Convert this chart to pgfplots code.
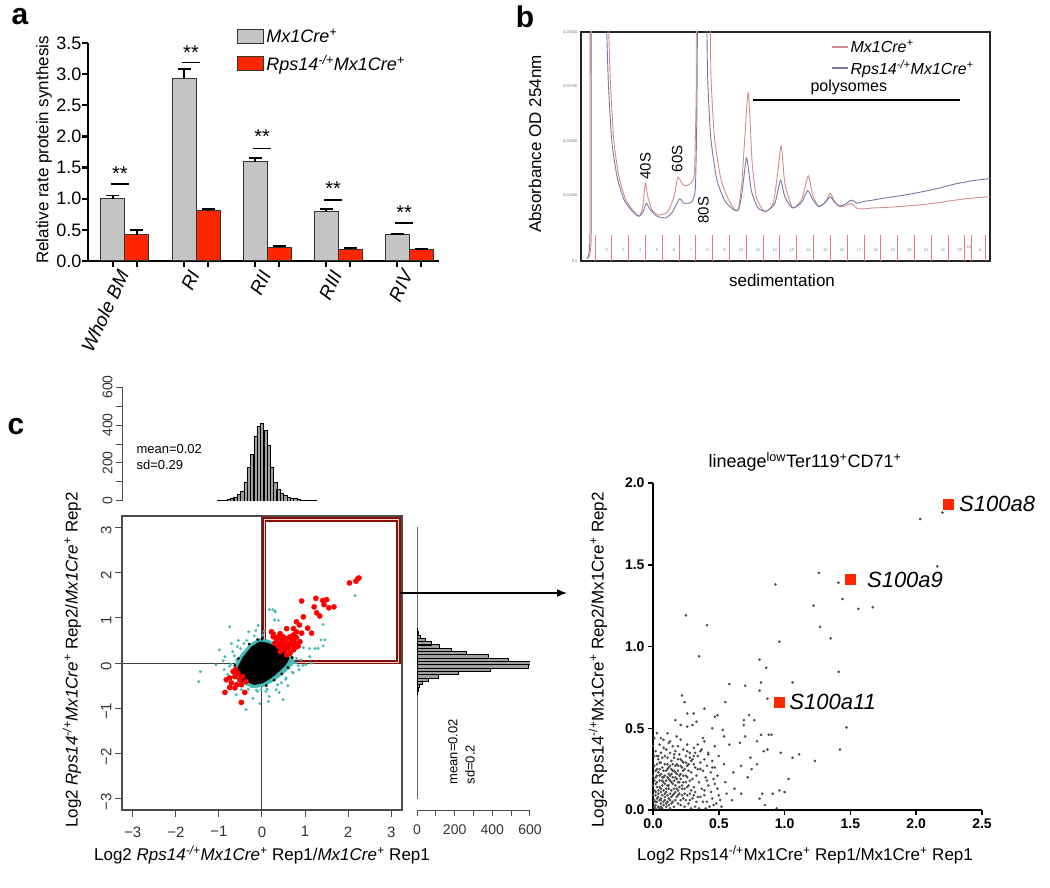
\documentclass[border=0pt]{standalone}
\usepackage{pgfplots}
\pgfplotsset{compat=1.18}
\usepackage{fontspec}
\setmainfont{Liberation Sans}
\usetikzlibrary{arrows.meta}

\definecolor{barred}{RGB}{255,38,0}
\definecolor{bargray}{RGB}{196,196,196}
\definecolor{odred}{RGB}{212,140,140}
\definecolor{odblue}{RGB}{118,118,168}
\definecolor{fracred}{RGB}{238,120,120}
\definecolor{tealpt}{RGB}{70,185,185}
\definecolor{boxred}{RGB}{135,15,10}
\definecolor{ptgray}{RGB}{75,75,75}
\definecolor{histgray}{RGB}{160,160,160}

\newcommand{\fs}[1]{\fontsize{#1}{#1}\selectfont}
\newcommand{\sps}[1]{\textsuperscript{#1}}

\begin{document}
\begin{tikzpicture}[x=1pt,y=1pt]
\useasboundingbox (0,0) rectangle (1050,887);

% ================= panel a : bars
\node[font=\fs{30}\bfseries] at (20,870) {a};
\node[rotate=90, font=\fs{17}] at (44,737) {Relative rate protein synthesis};
\begin{axis}[
  at={(88pt,626pt)}, anchor=south west, scale only axis,
  width=351pt, height=218pt,
  xmin=-0.52, xmax=4.42, ymin=0, ymax=3.5,
  axis x line=bottom, axis y line=left,
  axis line style={-, line width=2.4pt},
  ybar=0pt, bar width=24pt,
  xtick={-0.169,0.169,0.831,1.169,1.831,2.169,2.831,3.169,3.831,4.169},
  xticklabels={,,,,,,,,,},
  ytick={0,0.5,1,1.5,2,2.5,3,3.5},
  yticklabels={0.0,0.5,1.0,1.5,2.0,2.5,3.0,3.5},
  tick align=outside, major tick length=6pt,
  tick style={line width=2.4pt, black},
  yticklabel style={font=\fs{18}, xshift=3pt},
  clip=false,
  legend style={at={(0.425,1.075)}, anchor=north west, draw=none, fill=none,
    font=\fs{18}\itshape, row sep=7pt, inner sep=0pt, cells={anchor=west}},
  legend image code/.code={\draw[#1, line width=1pt] (0pt,-7pt) rectangle (26pt,7pt);},
]
\addplot[fill=bargray, draw=black!80, line width=1pt,
  error bars/.cd, y dir=plus, y explicit,
  error bar style={line width=1.6pt, black},
  error mark options={rotate=90, mark size=6.5pt, line width=1.6pt, black}]
  coordinates {(0,1.00) +- (0,0.05) (1,2.93) +- (0,0.15) (2,1.59) +- (0,0.06)
               (3,0.79) +- (0,0.04) (4,0.42) +- (0,0.015)};
\addplot[fill=barred, draw=black!80, line width=1pt,
  error bars/.cd, y dir=plus, y explicit,
  error bar style={line width=1.6pt, black},
  error mark options={rotate=90, mark size=6.5pt, line width=1.6pt, black}]
  coordinates {(0,0.42) +- (0,0.08) (1,0.81) +- (0,0.02) (2,0.22) +- (0,0.02)
               (3,0.19) +- (0,0.02) (4,0.18) +- (0,0.015)};
\legend{Mx1Cre\sps{+}, Rps14\sps{-/+}Mx1Cre\sps{+}}
% significance
\draw[line width=1.5pt] (axis cs:-0.20,1.236) -- (axis cs:0.06,1.236);
\node[font=\fs{20}] at (axis cs:-0.07,1.40) {**};
\draw[line width=1.5pt] (axis cs:0.80,3.19) -- (axis cs:1.06,3.19);
\node[font=\fs{20}] at (axis cs:0.93,3.35) {**};
\draw[line width=1.5pt] (axis cs:1.80,1.81) -- (axis cs:2.06,1.81);
\node[font=\fs{20}] at (axis cs:1.93,1.99) {**};
\draw[line width=1.5pt] (axis cs:2.80,0.98) -- (axis cs:3.06,0.98);
\node[font=\fs{20}] at (axis cs:2.93,1.16) {**};
\draw[line width=1.5pt] (axis cs:3.80,0.61) -- (axis cs:4.06,0.61);
\node[font=\fs{20}] at (axis cs:3.93,0.77) {**};
% category names
\node[rotate=65, anchor=east, font=\fs{19}\itshape] at (axis cs:0.0,-0.12) {Whole BM};
\node[rotate=65, anchor=east, font=\fs{19}\itshape] at (axis cs:1.0,-0.12) {RI};
\node[rotate=65, anchor=east, font=\fs{19}\itshape] at (axis cs:2.0,-0.12) {RII};
\node[rotate=65, anchor=east, font=\fs{19}\itshape] at (axis cs:3.0,-0.12) {RIII};
\node[rotate=65, anchor=east, font=\fs{19}\itshape] at (axis cs:4.0,-0.12) {RIV};
\end{axis}

% ================= panel b : polysome profile
\node[font=\fs{30}\bfseries] at (525,870) {b};
\node[rotate=90, font=\fs{17}] at (535,743) {Absorbance OD 254nm};
\node[font=\fs{17}] at (782,607) {sedimentation};
\begin{axis}[
  at={(581pt,626pt)}, anchor=south west, scale only axis,
  width=409pt, height=229pt,
  xmin=0.17, xmax=24.5, ymin=-0.0027, ymax=0.05,
  axis line style={line width=1.4pt, black!85},
  xtick=\empty,
  ytick={-0.0027,0.0125,0.025,0.0375,0.05},
  yticklabels={0.0,0.01250,0.02500,0.03750,0.05000},
  scaled y ticks=false,
  major tick length=0pt,
  yticklabel style={font=\fs{4}, text=black!55},
  legend style={at={(0.611,0.975)}, anchor=north west, draw=none, fill=none,
    font=\fs{16}\itshape, row sep=2pt, inner sep=0pt, cells={anchor=west}},
  legend image code/.code={\draw[#1, line width=1.5pt] (0pt,0pt) -- (16pt,0pt);},
]
\addplot[odred, line width=0.9pt, smooth, tension=0.35] coordinates {
  (0.55,-0.002)(0.78,0.003)(0.84,0.06)(1.75,0.06)(1.82,0.05)(1.92,0.0383)(2.12,0.0251)
  (2.43,0.0166)(2.84,0.0113)(3.34,0.0086)(3.65,0.0076)(3.85,0.0100)(4.00,0.0152)
  (4.15,0.0120)(4.40,0.0090)(4.80,0.0079)(5.30,0.0085)(5.70,0.0120)(5.93,0.0166)
  (6.20,0.0150)(6.45,0.0146)(6.76,0.0155)(6.92,0.0180)(7.02,0.0350)(7.08,0.06)
  (7.80,0.06)(7.90,0.040)(8.10,0.026)(8.50,0.016)(9.00,0.0110)(9.50,0.0088)
  (9.75,0.0160)(10.11,0.0360)(10.35,0.0200)(10.60,0.0120)(11.10,0.0086)(11.60,0.0105)
  (11.85,0.0170)(12.08,0.0238)(12.30,0.0150)(12.76,0.0095)(13.30,0.0115)(13.69,0.0169)
  (13.95,0.0125)(14.31,0.0098)(14.70,0.0108)(15.00,0.0129)(15.25,0.0110)(15.55,0.0098)
  (15.90,0.0100)(16.24,0.0105)(16.60,0.0094)(17.00,0.0093)(17.50,0.0095)(18.25,0.0096)
  (19.30,0.0099)(20.30,0.0102)(21.40,0.0107)(22.40,0.0113)(23.50,0.0118)(24.60,0.0121)};
\addplot[odblue, line width=0.9pt, smooth, tension=0.35] coordinates {
  (0.50,-0.002)(0.70,0.003)(0.76,0.06)(1.62,0.06)(1.70,0.05)(1.80,0.038)(2.00,0.025)
  (2.32,0.0166)(2.74,0.0113)(3.25,0.0086)(3.60,0.0076)(3.85,0.0085)(4.05,0.0106)
  (4.30,0.0090)(4.70,0.0076)(5.20,0.0072)(5.60,0.0085)(6.03,0.0116)(6.30,0.0106)
  (6.76,0.0109)(6.97,0.0140)(7.06,0.0300)(7.14,0.06)(7.60,0.06)(7.70,0.040)(7.88,0.026)
  (8.25,0.016)(8.75,0.0110)(9.30,0.0090)(9.55,0.0092)(9.75,0.0130)(10.02,0.0210)
  (10.30,0.0135)(10.70,0.0095)(11.20,0.0088)(11.70,0.0105)(12.04,0.0159)(12.30,0.0120)
  (12.76,0.0095)(13.30,0.0108)(13.65,0.0135)(13.95,0.0115)(14.31,0.0098)(14.70,0.0108)
  (15.00,0.0121)(15.25,0.0108)(15.55,0.0100)(15.90,0.0104)(16.24,0.0113)(16.60,0.0106)
  (17.00,0.0110)(17.50,0.0113)(18.25,0.0118)(19.30,0.0124)(20.30,0.0131)(21.40,0.0140)
  (22.40,0.0150)(23.50,0.0158)(24.60,0.0163)};
\legend{Mx1Cre\sps{+}, Rps14\sps{-/+}Mx1Cre\sps{+}}
% fraction marks
\pgfplotsinvokeforeach{1,2,3,4,5,6,7,8,9,10,11,12,13,14,15,16,17,18,19,20,21,22}{
  \draw[fracred, line width=0.8pt] (axis cs:#1,-0.0027) -- (axis cs:#1,0.0033);
  \node[font=\fs{4}, text=black!50] at (axis cs:#1-0.3,-0.0001) {#1};
}
\draw[fracred, line width=0.8pt] (axis cs:23.0,-0.0027) -- (axis cs:23.0,0.0033);
\node[font=\fs{4}, text=black!50] at (axis cs:22.7,-0.0001) {23};
\draw[fracred, line width=0.8pt] (axis cs:23.4,-0.0027) -- (axis cs:23.4,0.0033);
\node[font=\fs{4}, text=black!50] at (axis cs:23.25,0.0004) {24};
\draw[fracred, line width=0.8pt] (axis cs:24.2,-0.0027) -- (axis cs:24.2,0.0033);
\node[font=\fs{4}, text=black!50] at (axis cs:23.9,-0.0001) {A};
% annotations
\draw[line width=1.3pt] (axis cs:10.4,0.03435) -- (axis cs:22.7,0.03435);
\node[font=\fs{16}] at (axis cs:16.1,0.0372) {polysomes};
\node[rotate=90, font=\fs{15}] at (axis cs:4.0,0.0191) {40S};
\node[rotate=90, font=\fs{15}] at (axis cs:5.9,0.0208) {60S};
\node[rotate=90, font=\fs{15}] at (axis cs:7.45,0.0090) {80S};
\end{axis}

% ================= panel c : scatter with marginal histograms
\node[font=\fs{30}\bfseries] at (16,460) {c};
\begin{axis}[
  at={(122pt,77pt)}, anchor=south west, scale only axis,
  width=280pt, height=294pt,
  xmin=-3.25, xmax=3.25, ymin=-3.25, ymax=3.25,
  axis line style={line width=1.2pt, black!70},
  xtick={-3,-2,-1,0,1,2,3}, ytick={-3,-2,-1,0,1,2,3},
  xticklabels={−3,−2,−1,0,1,2,3}, yticklabels={−3,−2,−1,0,1,2,3},
  tick align=outside, tick pos=left, major tick length=7pt,
  tick style={line width=1pt, black!70},
  ticklabel style={font=\fs{15}, text=black!80},
  xticklabel style={yshift=-6pt},
  yticklabel style={rotate=90, anchor=south, xshift=-3pt},
]
\addplot[black!75, line width=1pt] coordinates {(-3.25,0)(3.25,0)};
\addplot[black!75, line width=1pt] coordinates {(0,-3.25)(0,3.25)};
\draw[boxred, line width=1.8pt, double=red!20, double distance=1pt]
  (axis cs:0.05,0.02) rectangle (axis cs:3.17,3.17);
% teal halo
\addplot[fill=tealpt, draw=tealpt] coordinates {
  (-0.68,-0.15)(-0.58,0.06)(-0.48,0.20)(-0.28,0.42)(-0.06,0.54)(0.15,0.51)(0.35,0.42)
  (0.58,0.29)(0.72,0.12)(0.76,0.0)(0.64,-0.10)(0.48,-0.25)(0.27,-0.40)(0.04,-0.52)
  (-0.19,-0.55)(-0.40,-0.48)(-0.59,-0.34)} -- cycle;
\addplot[only marks, mark=*, mark size=1.3pt, mark options={draw=tealpt, fill=tealpt}] coordinates {
  (-0.75,0.80)(0.17,1.18)(0.31,1.13)(-0.09,0.83)(-0.14,0.72)(-0.31,0.69)(-0.71,0.43)
  (-0.99,0.29)(-1.43,-0.19)(-1.47,-0.41)(-1.07,-0.04)(-0.88,-0.15)(0.38,0.94)(1.37,0.51)
  (1.30,0.32)(1.11,0.14)(1.02,-0.04)(0.86,-0.15)(0.72,-0.22)(0.56,-0.33)(0.45,-0.44)
  (0.33,-0.59)(0.49,-0.81)(0.17,-0.74)(-0.02,-0.59)(-0.21,-0.78)(-0.37,-1.03)(-0.48,-0.59)
  (-0.25,-0.52)(0.09,-0.63)(0.78,0.0)(0.63,-0.12)(0.90,0.07)(0.25,-0.37)(-0.13,-0.60)
  (-0.86,0.14)(-0.68,0.25)(-0.57,0.36)(-0.42,0.43)(-0.59,0.07)(-0.75,-0.07)
  (2.16,1.49)(0.25,1.18)(0.30,1.15)(0.29,0.95)(1.42,0.85)(1.46,0.51)(1.42,0.38)
  (1.23,0.32)(1.10,0.32)(0.96,0.34)(-0.80,-0.25)(-0.90,0.05)(-0.55,0.50)(0.95,-0.05)
  (0.60,-0.50)(0.15,-0.85)(-0.05,-0.90)(0.40,-0.65)(-0.60,-0.70)(1.15,0.0)(0.05,0.70)
  (-0.72,-0.02)(-0.64,0.16)(-0.50,0.32)(-0.36,0.50)(-0.18,0.60)(0.02,0.62)(0.62,0.34)
  (0.80,0.10)(0.84,-0.06)(0.70,-0.20)(0.55,-0.36)(0.36,-0.48)(0.12,-0.58)(-0.10,-0.63)
  (-0.32,-0.58)(-0.52,-0.45)(-0.66,-0.30)};
% dense core
\addplot[fill=black, draw=black] coordinates {
  (-0.59,-0.15)(-0.50,0.02)(-0.43,0.14)(-0.24,0.36)(-0.05,0.47)(0.14,0.44)(0.33,0.36)
  (0.53,0.25)(0.63,0.10)(0.55,-0.04)(0.40,-0.18)(0.21,-0.33)(0.02,-0.44)(-0.18,-0.48)
  (-0.37,-0.41)(-0.53,-0.30)} -- cycle;
\addplot[only marks, mark=*, mark size=1.2pt, black] coordinates {
  (0.70,0.12)(0.66,0.20)(-0.63,-0.05)(0.00,0.53)(0.10,-0.50)(0.46,-0.24)(-0.30,0.42)
  (-0.45,-0.40)(0.60,-0.10)(-0.10,0.52)(0.28,-0.38)(-0.55,0.10)};
% differentially expressed
\addplot[only marks, mark=*, mark size=2.6pt, mark options={draw=red, fill=red}] coordinates {
  (2.22,1.86)(2.25,1.88)(2.18,1.81)(2.03,1.77)(0.92,1.37)(1.25,1.43)(1.41,1.38)(1.50,1.40)
  (1.44,1.29)(1.55,1.22)(1.67,1.24)(1.21,1.24)(1.27,1.11)(1.34,1.04)(0.96,1.02)(0.80,0.91)
  (0.87,0.84)(0.73,0.76)(0.57,0.76)(1.06,0.77)(1.15,0.66)(0.92,0.66)(0.80,0.69)(0.73,0.62)
  (0.42,0.65)(0.22,0.69)(0.26,0.58)(0.34,0.51)(0.42,0.43)(0.49,0.47)(0.57,0.54)(0.65,0.58)
  (0.73,0.51)(0.80,0.43)(0.88,0.47)(0.69,0.40)(0.61,0.32)(0.53,0.29)(0.46,0.34)(0.38,0.37)
  (0.30,0.44)(0.73,0.29)(0.65,0.21)(0.57,0.18)(0.77,0.34)(0.84,0.37)(0.49,0.58)(0.61,0.43)
  (0.69,0.51)(0.53,0.37)(0.26,0.64)(0.38,0.58)(0.46,0.53)(0.80,0.56)(0.42,0.25)
  (-0.67,-0.19)(-0.63,-0.30)(-0.75,-0.33)(-0.83,-0.37)(-0.71,-0.44)(-0.59,-0.48)
  (-0.75,-0.54)(-0.86,-0.65)(-0.63,-0.55)(-0.52,-0.37)(-0.48,-0.48)(-0.40,-0.65)
  (-0.48,-0.87)(-0.56,-0.23)(-0.61,-0.15)(-0.45,-0.30)(-0.37,-0.41)};
\end{axis}

% top histogram
\begin{axis}[
  at={(122pt,386pt)}, anchor=south west, scale only axis,
  width=280pt, height=114pt,
  xmin=-3.25, xmax=3.25, ymin=0, ymax=600,
  axis x line=none, axis y line=left,
  axis line style={-, line width=1pt, black!70},
  ytick={0,100,200,300,400,500,600}, yticklabels={0,,200,,400,,600},
  tick align=outside, major tick length=6pt,
  tick style={line width=1pt, black!70},
  yticklabel style={rotate=90, anchor=south, font=\fs{14}, text=black!80},
]
\addplot[black!70, line width=0.8pt] coordinates {(-3,0)(3,0)};
\addplot[ybar, bar width=0.077, fill=histgray, draw=black, line width=0.5pt] coordinates {
  (-1.00,2)(-0.92,4)(-0.85,6)(-0.77,9)(-0.69,13)(-0.62,22)(-0.54,34)(-0.46,50)(-0.38,100)
  (-0.31,178)(-0.23,245)(-0.15,340)(-0.08,392)(0.00,408)(0.08,372)(0.15,295)(0.23,180)
  (0.31,100)(0.38,60)(0.46,40)(0.54,30)(0.62,21)(0.69,16)(0.77,12)(0.85,8)(0.92,6)
  (1.00,4)(1.08,3)(1.15,2)(1.23,2)(1.31,1)};
\end{axis}
\node[anchor=west, font=\fs{13}] at (133,438) {mean=0.02};
\node[anchor=west, font=\fs{13}] at (133,422) {sd=0.29};

% right histogram
\begin{axis}[
  at={(417pt,77pt)}, anchor=south west, scale only axis,
  width=113pt, height=294pt,
  xmin=0, xmax=600, ymin=-3.25, ymax=3.25,
  axis y line=none, axis x line=bottom,
  axis line style={-, line width=1pt, black!70},
  xtick={0,100,200,300,400,500,600}, xticklabels={0,,200,,400,,600},
  tick align=outside, major tick length=6pt,
  tick style={line width=1pt, black!70},
  xticklabel style={font=\fs{14}, text=black!80, yshift=-5pt},
]
\addplot[black!60, line width=0.8pt] coordinates {(0,-3)(0,3)};
\addplot[xbar, bar width=0.073, fill=histgray, draw=black, line width=0.5pt] coordinates {
  (3,0.73)(8,0.66)(16,0.58)(42,0.51)(78,0.44)(120,0.37)(180,0.29)(260,0.22)(379,0.15)
  (485,0.07)(639,0.00)(591,-0.07)(388,-0.15)(219,-0.22)(113,-0.29)(58,-0.37)(30,-0.44)
  (11,-0.51)(5,-0.58)(2,-0.66)};
\end{axis}
\node[rotate=90, anchor=west, font=\fs{13}] at (453,99) {mean=0.02};
\node[rotate=90, anchor=west, font=\fs{13}] at (470,99) {sd=0.2};

\node[rotate=90, font=\fs{17}] at (72,227)
  {Log2 \textit{Rps14\sps{-/+}Mx1Cre\sps{+}} Rep2/\textit{Mx1Cre\sps{+}} Rep2};
\node[font=\fs{17}] at (262,32)
  {Log2 \textit{Rps14\sps{-/+}Mx1Cre\sps{+}} Rep1/\textit{Mx1Cre\sps{+}} Rep1};

\draw[-{Latex[length=10pt,width=8pt]}, line width=1.5pt] (400,294) -- (567,294);

% right scatter (lineage low Ter119+ CD71+)
\node[font=\fs{18}] at (805,425) {lineage\sps{low}Ter119\sps{+}CD71\sps{+}};
\begin{axis}[
  at={(653pt,77pt)}, anchor=south west, scale only axis,
  width=329pt, height=327pt,
  xmin=0, xmax=2.5, ymin=0, ymax=2.0,
  axis x line=bottom, axis y line=left,
  axis line style={-, line width=2pt},
  xtick={0,0.5,1,1.5,2,2.5}, ytick={0,0.5,1,1.5,2},
  xticklabels={0.0,0.5,1.0,1.5,2.0,2.5}, yticklabels={0.0,0.5,1.0,1.5,2.0},
  tick align=outside, major tick length=5pt,
  tick style={line width=1.5pt, black},
  ticklabel style={font=\fs{14}\bfseries},
  clip=false,
]
\addplot[only marks, mark=*, mark size=1.1pt, mark options={draw=ptgray, fill=ptgray}] coordinates {
  (2.03,1.78)(2.20,1.82)(2.16,1.49)(1.26,1.45)(1.41,1.39)(0.93,1.38)(1.44,1.29)(1.22,1.25)
  (1.56,1.23)(1.67,1.24)(1.27,1.12)(0.25,1.19)(0.41,1.13)(0.96,1.03)(1.35,1.05)(0.35,0.94)
  (0.81,0.92)(0.86,0.87)(1.41,0.845)(1.06,0.78)(0.82,0.78)(0.58,0.77)(0.70,0.76)(0.81,0.73)
  (0.22,0.70)(0.87,0.68)(0.24,0.66)(0.55,0.66)(1.47,0.505)(1.42,0.37)(1.23,0.30)(1.11,0.34)
  (1.06,0.32)(1.03,0.19)(1.00,0.11)(0.96,0.12)(0.94,0.01)(0.85,0.03)(0.91,0.10)(0.83,0.10)
  (0.81,0.07)(0.84,0.36)(0.88,0.46)(0.90,0.46)(0.82,0.46)(0.87,0.37)(0.97,0.35)(0.73,0.58)
  (0.77,0.55)(0.69,0.55)(0.69,0.52)(0.49,0.58)(0.47,0.57)(0.39,0.62)(0.31,0.59)(0.26,0.59)
  (0.33,0.54)(0.17,0.55)(0.11,0.47)(0.06,0.44)(0.13,0.42)(0.26,0.51)(0.30,0.52)(0.21,0.52)
  (0.45,0.50)(0.53,0.49)(0.54,0.45)(0.58,0.40)(0.66,0.41)(0.70,0.45)(0.79,0.42)(0.74,0.32)
  (0.79,0.28)(0.67,0.27)(0.61,0.23)(0.72,0.20)(0.75,0.25)(0.62,0.13)(0.67,0.10)(0.56,0.10)
  (0.51,0.06)(0.46,0.03)(0.60,0.06)(0.39,0.12)(0.41,0.18)(0.36,0.25)(0.42,0.34)(0.36,0.36)
  (0.39,0.42)(0.47,0.39)(0.50,0.33)(0.54,0.28)(0.45,0.26)(0.49,0.21)(0.55,0.17)(0.31,0.33)
  (0.27,0.28)(0.21,0.31)(0.26,0.36)(0.19,0.39)(0.16,0.34)(0.08,0.38)(0.04,0.33)(0.03,0.25)
  (0.06,0.06)
  (0.01,0.02)(0.03,0.05)(0.05,0.01)(0.02,0.09)(0.06,0.07)(0.08,0.03)(0.04,0.12)(0.09,0.10)
  (0.11,0.05)(0.07,0.15)(0.12,0.13)(0.14,0.08)(0.10,0.18)(0.15,0.16)(0.17,0.11)(0.13,0.21)
  (0.18,0.19)(0.20,0.14)(0.16,0.24)(0.21,0.22)(0.23,0.17)(0.19,0.27)(0.24,0.25)(0.26,0.20)
  (0.22,0.30)(0.27,0.28)(0.29,0.23)(0.25,0.33)(0.30,0.31)(0.32,0.26)(0.02,0.16)(0.03,0.21)
  (0.01,0.27)(0.04,0.31)(0.02,0.36)(0.05,0.25)(0.07,0.20)(0.06,0.29)(0.08,0.24)(0.09,0.33)
  (0.11,0.28)(0.12,0.22)(0.14,0.30)(0.10,0.37)(0.13,0.35)(0.16,0.32)(0.18,0.28)(0.05,0.40)
  (0.08,0.43)(0.01,0.44)(0.03,0.47)(0.12,0.41)(0.15,0.39)(0.17,0.36)(0.20,0.34)(0.23,0.37)
  (0.26,0.40)(0.21,0.43)(0.18,0.45)(0.28,0.35)(0.31,0.38)(0.34,0.33)(0.36,0.29)(0.33,0.21)
  (0.35,0.17)(0.38,0.24)(0.40,0.20)(0.37,0.13)(0.39,0.09)(0.42,0.15)(0.44,0.11)(0.41,0.05)
  (0.45,0.07)(0.43,0.02)(0.47,0.16)(0.48,0.04)(0.31,0.14)(0.28,0.10)(0.25,0.06)(0.22,0.09)
  (0.19,0.04)(0.16,0.02)(0.13,0.01)(0.24,0.02)(0.27,0.04)(0.30,0.07)(0.33,0.05)(0.35,0.01)
  (0.29,0.01)(0.21,0.06)(0.18,0.08)(0.15,0.05)(0.12,0.07)(0.09,0.06)(0.06,0.04)(0.04,0.08)
  (0.03,0.14)(0.06,0.11)(0.08,0.17)(0.10,0.13)(0.11,0.20)(0.14,0.17)(0.17,0.15)(0.19,0.12)
  (0.22,0.13)(0.24,0.10)(0.26,0.14)(0.28,0.18)(0.25,0.21)(0.20,0.21)(0.17,0.20)(0.14,0.25)
  (0.12,0.26)(0.09,0.21)(0.07,0.26)(0.05,0.18)(0.02,0.24)(0.01,0.12)(0.01,0.06)(0.02,0.01)
  (0.07,0.01)(0.10,0.02)(0.05,0.14)(0.13,0.10)(0.16,0.13)(0.20,0.10)(0.23,0.24)(0.26,0.27)
  (0.29,0.30)(0.32,0.35)(0.34,0.40)(0.37,0.37)(0.39,0.31)(0.41,0.27)(0.44,0.23)(0.46,0.19)
  (0.49,0.13)(0.50,0.09)(0.52,0.02)(0.38,0.44)(0.42,0.35)(0.45,0.30)(0.47,0.26)(0.36,0.08)
  (0.32,0.11)(0.03,0.33)(0.06,0.35)(0.11,0.32)(0.15,0.28)(0.19,0.31)(0.22,0.26)(0.27,0.24)
  (0.30,0.19)(0.34,0.25)(0.31,0.28)(0.28,0.32)
  (0.02,0.03)(0.04,0.02)(0.06,0.02)(0.08,0.05)(0.10,0.04)(0.12,0.03)(0.14,0.04)(0.03,0.07)
  (0.05,0.06)(0.07,0.09)(0.09,0.08)(0.11,0.09)(0.13,0.06)(0.15,0.09)(0.17,0.06)(0.19,0.09)
  (0.21,0.03)(0.23,0.07)(0.02,0.11)(0.04,0.10)(0.06,0.13)(0.08,0.12)(0.10,0.11)(0.12,0.15)
  (0.14,0.12)(0.16,0.10)(0.18,0.13)(0.20,0.17)(0.22,0.15)(0.24,0.13)(0.01,0.18)(0.03,0.17)
  (0.05,0.21)(0.07,0.18)(0.09,0.16)(0.11,0.15)(0.13,0.18)(0.15,0.20)(0.17,0.23)(0.19,0.17)
  (0.21,0.19)(0.23,0.21)(0.25,0.17)(0.27,0.15)(0.29,0.12)(0.31,0.09)(0.02,0.20)(0.04,0.23)
  (0.06,0.22)(0.08,0.20)(0.10,0.24)(0.12,0.19)(0.14,0.22)(0.16,0.18)(0.18,0.22)(0.03,0.28)
  (0.05,0.29)(0.07,0.32)(0.09,0.28)(0.11,0.25)(0.13,0.27)(0.15,0.24)(0.17,0.27)(0.19,0.24)
  (0.21,0.27)(0.23,0.29)(0.25,0.29)(0.02,0.05)(0.00,0.09)(0.00,0.15)(0.00,0.21)(0.01,0.33)
  (0.00,0.39)(0.26,0.09)(0.28,0.06)(0.32,0.02)(0.34,0.08)(0.38,0.05)(0.40,0.01)};
\addplot[only marks, mark=square*, mark size=5pt, mark options={draw=barred, fill=barred}]
  coordinates {(2.24,1.87)(1.50,1.41)(0.96,0.66)};
\node[anchor=west, font=\fs{22}\itshape] at (axis cs:2.30,1.87) {S100a8};
\node[anchor=west, font=\fs{22}\itshape] at (axis cs:1.60,1.41) {S100a9};
\node[anchor=west, font=\fs{22}\itshape] at (axis cs:1.01,0.66) {S100a11};
\end{axis}
\node[rotate=90, font=\fs{17}] at (598,227)
  {Log2 Rps14\sps{-/+}Mx1Cre\sps{+} Rep2/Mx1Cre\sps{+} Rep2};
\node[font=\fs{17}] at (805,32)
  {Log2 Rps14\sps{-/+}Mx1Cre\sps{+} Rep1/Mx1Cre\sps{+} Rep1};

\end{tikzpicture}
\end{document}
